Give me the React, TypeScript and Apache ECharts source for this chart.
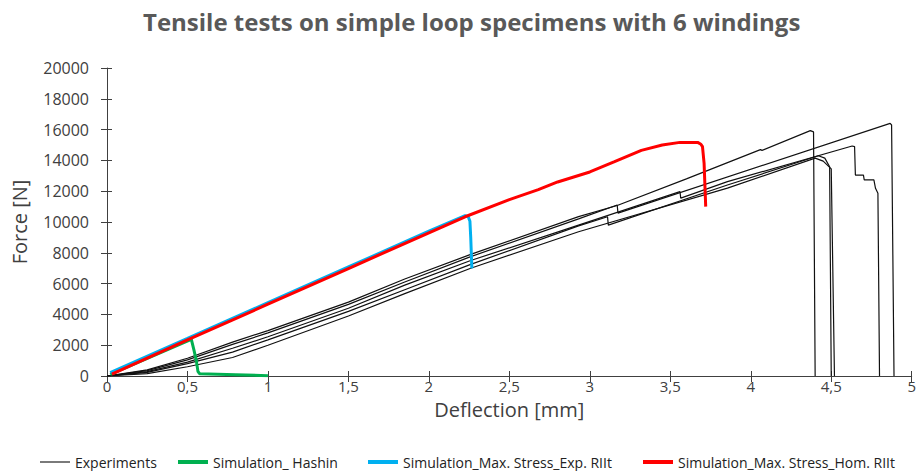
import React, { useEffect, useRef } from "react";
import * as echarts from "echarts";

const title = "Tensile tests on simple loop specimens with 6 windings";
const xTitle = "Deflection [mm]";
const yTitle = "Force [N]";
const seriesNames = [
  "Experiments",
  "Simulation_ Hashin",
  "Simulation_Max. Stress_Exp. RIIt",
  "Simulation_Max. Stress_Hom. RIIt",
];

const exp1 = [[0,0],[0.25,400],[0.5,1150],[0.78,2200],[1.0,2950],[1.5,4800],[1.85,6300],[2.26,7900],[2.93,10350],[3.17,11070],[3.6,12800],[4.06,14700],[4.07,14650],[4.37,15930],[4.39,15850],[4.40,0]];
const exp2 = [[0,0],[0.25,350],[0.5,1050],[0.78,2050],[1.0,2800],[1.5,4650],[1.85,6100],[2.26,7750],[2.93,10200],[3.17,11100],[3.175,10580],[4.866,16400],[4.875,16300],[4.89,0]];
const exp3 = [[0,0],[0.25,280],[0.5,900],[0.78,1800],[1.0,2550],[1.5,4400],[1.85,5900],[2.26,7500],[2.93,9800],[3.56,11970],[3.565,11550],[3.855,12620],[4.63,14935],[4.645,14900],[4.65,13050],[4.70,13050],[4.705,12730],[4.765,12730],[4.775,12190],[4.79,11860],[4.80,0]];
const exp4 = [[0,0],[0.25,230],[0.5,800],[0.78,1550],[1.0,2350],[1.5,4200],[1.85,5600],[2.26,7250],[2.93,9750],[3.11,10340],[3.115,9800],[3.855,12400],[4.42,14300],[4.46,14150],[4.49,13590],[4.50,0]];
const exp5 = [[0,0],[0.25,150],[0.5,600],[0.78,1200],[1.0,2000],[1.5,3900],[1.85,5350],[2.26,7000],[2.93,9370],[3.855,12200],[4.40,14150],[4.45,13950],[4.50,13450],[4.52,0]];
const hashin = [[0.02,100],[0.524,2380],[0.54,1700],[0.555,1000],[0.565,300],[0.575,150],[0.8,80],[1.0,20]];
const expRllt = [[0.02,220],[0.5,2440],[1.0,4760],[1.5,7080],[2.0,9400],[2.225,10420],[2.245,10330],[2.255,10050],[2.26,9000],[2.267,6990]];
const homRllt = [[0.03,120],[0.5,2340],[1.0,4660],[1.5,6980],[2.0,9300],[2.225,10340],[2.5,11450],[2.68,12100],[2.8,12600],[3.0,13250],[3.15,13900],[3.32,14650],[3.45,15000],[3.56,15170],[3.67,15170],[3.69,15050],[3.70,14890],[3.71,13810],[3.72,11000]];

const experiments = [exp1, exp2, exp3, exp4, exp5];
const FONT = "Open Sans";

export default function App() {
  const ref = useRef<HTMLDivElement>(null);
  useEffect(() => {
    const chart = echarts.init(ref.current!, null, { renderer: "svg" });
    const axisColor = "#404040";
    const xBase = {
      type: "value",
      min: 0,
      max: 5,
      interval: 0.5,
      splitLine: { show: false },
    };
    const yBase = {
      type: "value",
      min: 0,
      max: 20000,
      interval: 2000,
      splitLine: { show: false },
    };
    const expSeries = experiments.map((d) => ({
      name: seriesNames[0],
      type: "line",
      data: d,
      symbol: "none",
      lineStyle: { color: "#111", width: 1.2 },
      itemStyle: { color: "#7a7a7a" },
      z: 2,
    }));
    const sim = [
      { d: hashin, c: "#00b050", n: seriesNames[1] },
      { d: expRllt, c: "#00b0f0", n: seriesNames[2] },
      { d: homRllt, c: "#ff0000", n: seriesNames[3] },
    ].map((s, i) => ({
      name: s.n,
      type: "line",
      data: s.d,
      symbol: "none",
      lineStyle: { color: s.c, width: 3 },
      itemStyle: { color: s.c },
      z: 3 + i,
    }));
    const legendLefts = [40, 178, 368, 643];
    chart.setOption({
      animation: false,
      title: {
        text: title,
        left: 138,
        top: 4,
        textStyle: { fontFamily: FONT, fontSize: 24, fontWeight: "bold", color: "#595959" },
      },
      legend: seriesNames.map((n, i) => ({
        data: [n],
        left: legendLefts[i],
        top: 454,
        padding: 0,
        icon: "rect",
        itemWidth: 30,
        itemHeight: i === 0 ? 2 : 4,
        textStyle: { fontFamily: FONT, fontSize: 14, color: "#222", lineHeight: 16 },
      })),
      grid: { left: 107, right: 6, top: 68, bottom: 95 },
      xAxis: [
        {
          ...xBase,
          name: xTitle,
          nameLocation: "middle",
          nameGap: 23,
          nameMoveOverlap: false,
          nameTextStyle: { fontFamily: FONT, fontSize: 20, color: axisColor, lineHeight: 20 },
          axisLine: { show: true, lineStyle: { color: axisColor, width: 1 } },
          axisTick: { show: true, inside: false, length: 6, lineStyle: { color: axisColor } },
          axisLabel: {
            fontFamily: FONT,
            fontSize: 15,
            lineHeight: 15,
            color: axisColor,
            margin: 2,
            formatter: (v: number) => String(v).replace(".", ","),
          },
        },
        {
          ...xBase,
          position: "bottom",
          axisLine: { show: false },
          axisTick: { show: true, inside: true, length: 5, lineStyle: { color: axisColor } },
          axisLabel: { show: false },
        },
      ],
      yAxis: [
        {
          ...yBase,
          name: yTitle,
          nameLocation: "middle",
          nameGap: 78,
          nameMoveOverlap: false,
          nameTextStyle: { fontFamily: FONT, fontSize: 20, color: axisColor },
          axisLine: { show: true, lineStyle: { color: axisColor, width: 1 } },
          axisTick: { show: true, inside: false, length: 6, lineStyle: { color: axisColor } },
          axisLabel: {
            fontFamily: FONT,
            fontSize: 16,
            color: axisColor,
            margin: 18,
            formatter: (v: number) => String(v),
          },
        },
        {
          ...yBase,
          position: "left",
          axisLine: { show: false },
          axisTick: { show: true, inside: true, length: 5, lineStyle: { color: axisColor } },
          axisLabel: { show: false },
        },
      ],
      series: [...expSeries, ...sim],
    });
    return () => chart.dispose();
  }, []);
  return (
    <div
      ref={ref}
      style={{ position: "fixed", left: 0, top: 0, width: 919, height: 471, background: "#fff" }}
    />
  );
}
